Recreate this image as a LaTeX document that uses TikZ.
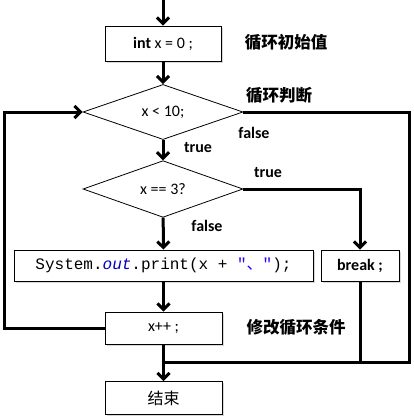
\documentclass[tikz,border=0pt]{standalone}
\usepackage{fontspec}
\setmainfont{Carlito}
\setmonofont{Liberation Mono}
\newfontfamily\cjk{Noto Sans CJK SC}
\usetikzlibrary{shapes.geometric,arrows.meta,shadows}
\definecolor{javablau}{RGB}{0,0,192}
\definecolor{stringblau}{RGB}{42,0,255}
\tikzset{
    kasten/.style={draw, line width=0.8pt, fill=white, inner sep=0pt, font=\fontsize{16}{19}\selectfont,
        drop shadow={shadow xshift=1.5pt, shadow yshift=-1.5pt, fill=black!30}},
    raute/.style={diamond, draw, line width=0.8pt, fill=white, inner sep=0pt, minimum width=160pt, minimum height=46pt,
        font=\fontsize{16}{19}\selectfont},
    pfeil/.style={line width=3pt, -{Straight Barb[length=6pt,width=12pt]}},
    linie/.style={line width=3pt},
    marke/.style={font=\bfseries\fontsize{16}{19}\selectfont},
    notiz/.style={font=\cjk\bfseries\fontsize{16.5}{20}\selectfont}
}
\begin{document}
\begin{tikzpicture}[x=1pt,y=-1pt]
        \useasboundingbox (0,0) rectangle (413,418);
        % Kaesten und Rauten
        \node[kasten, minimum width=116pt, minimum height=35pt] (init) at (163,43.5) {\textbf{int} x = 0 ;};
        \node[raute] (cond) at (163,112) {x < 10;};
        \node[raute] (drei) at (163,189) {x == 3?};
        \node[kasten, minimum width=299pt, minimum height=31pt] (print) at (163.5,265.5)
            {\ttfamily System.\textcolor{javablau}{\itshape out}.print(x + \textcolor{stringblau}{"{\cjk 、}"});};
        \node[kasten, minimum width=78pt, minimum height=31pt] (brk) at (360,265.5) {\textbf{break ;}};
        \node[kasten, minimum width=117pt, minimum height=32pt] (inc) at (163.5,328) {x++ ;};
        \node[kasten, minimum width=117pt, minimum height=33pt] (ende) at (163.5,398) {\cjk 结束};
        % Beschriftungen
        \node[notiz] (n1) at (286,42) {循环初始值};
        \node[notiz] (n2) at (279,95) {循环判断};
        \node[notiz] (n3) at (296,327) {修改循环条件};
        \node[marke] (f1) at (254,133) {false};
        \node[marke] (t1) at (198,148) {true};
        \node[marke] (t2) at (268,173) {true};
        \node[marke] (f2) at (207,226) {false};
        % Verbindungen
        \coordinate (start) at (163,0);
        \coordinate (join) at (163.5,362);
        \coordinate (rechts) at (409,362);
        \draw[pfeil] (start) -- (init);
        \draw[pfeil] (init) -- (cond);
        \draw[pfeil] (cond) -- (drei);
        \draw[pfeil] (drei) -- (print);
        \draw[pfeil] (print) -- (inc);
        \draw[pfeil] (inc) -- (ende);
        \draw[pfeil] (inc.west) -- ++(-100,0) |- (cond.west);
        \draw[pfeil] (drei.east) -| (brk.north);
        \draw[linie] (cond.east) -| (rechts) -- (join);
        \draw[linie] (brk.south) |- (join);
    \end{tikzpicture}
\end{document}
